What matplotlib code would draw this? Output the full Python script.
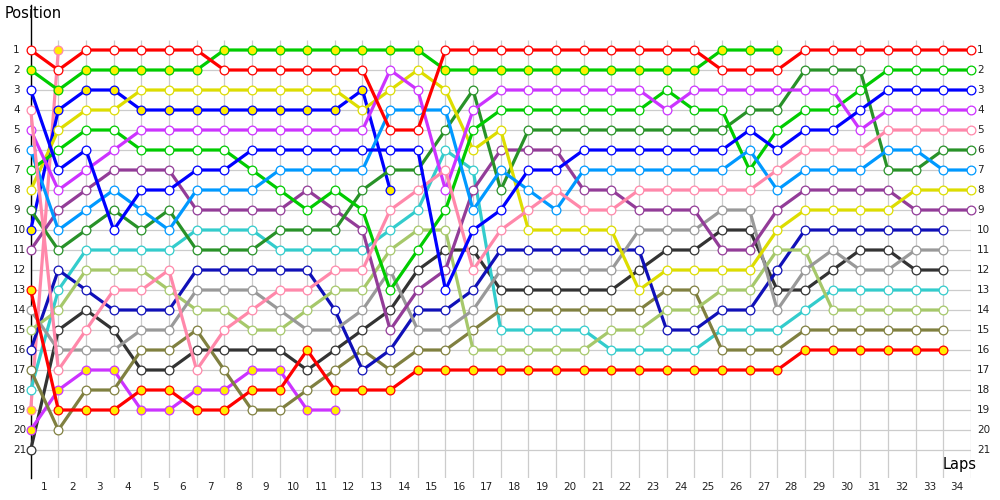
import matplotlib
matplotlib.use("Agg")
import matplotlib.pyplot as plt
from matplotlib.transforms import blended_transform_factory

# race positions per lap, lap 0 = grid
red_1 = [1, 2, 1, 1, 1, 1, 1, 2, 2, 2, 2, 2, 2, 5, 5, 1, 1, 1, 1, 1, 1, 1, 1, 1, 1, 2, 2, 2, 1, 1, 1, 1, 1, 1, 1]
green_1 = [2, 3, 2, 2, 2, 2, 2, 1, 1, 1, 1, 1, 1, 1, 1, 2, 2, 2, 2, 2, 2, 2, 2, 2, 2, 1, 1, 1]
blue_1 = [3, 7, 6, 10, 8, 8, 7, 7, 6, 6, 6, 6, 6, 6, 6, 13, 10, 9, 7, 7, 6, 6, 6, 6, 6, 6, 5, 6, 5, 5, 4, 3, 3, 3, 3]
pink_1 = [4, 17, 15, 13, 13, 12, 17, 15, 14, 13, 13, 12, 12, 9, 8, 7, 12, 10, 9, 8, 9, 9, 8, 8, 8, 8, 8, 7, 6, 6, 6, 5, 5, 5, 5]
violet_1 = [5, 8, 7, 6, 5, 5, 5, 5, 5, 5, 5, 5, 5, 2, 3, 8, 4, 3, 3, 3, 3, 3, 3, 4, 3, 3, 3, 3, 3, 3, 5, 4, 4, 4, 4]
sky = [6, 10, 9, 8, 9, 10, 8, 8, 8, 7, 7, 7, 7, 4, 4, 4, 9, 7, 8, 9, 7, 7, 7, 7, 7, 7, 6, 8, 7, 7, 7, 6, 6, 7, 7]
green_2 = [7, 6, 5, 5, 6, 6, 6, 6, 7, 8, 9, 8, 9, 13, 11, 9, 5, 4, 4, 4, 4, 4, 4, 3, 4, 4, 7, 5, 4, 4, 3, 2, 2, 2, 2]
yellow = [8, 5, 4, 4, 3, 3, 3, 3, 3, 3, 3, 3, 4, 3, 2, 3, 6, 5, 10, 10, 10, 10, 13, 12, 12, 12, 12, 10, 9, 9, 9, 9, 8, 8, 8]
dark_green = [9, 11, 10, 9, 10, 9, 11, 11, 11, 10, 10, 10, 8, 7, 7, 5, 3, 8, 5, 5, 5, 5, 5, 5, 5, 5, 4, 4, 2, 2, 2, 7, 7, 6, 6]
blue_2 = [10, 4, 3, 3, 4, 4, 4, 4, 4, 4, 4, 4, 3, 8]
purple = [11, 9, 8, 7, 7, 7, 9, 9, 9, 9, 8, 9, 10, 15, 13, 12, 8, 6, 6, 6, 8, 8, 9, 9, 9, 11, 11, 9, 8, 8, 8, 8, 9, 9, 9]
red_2 = [13, 19, 19, 19, 18, 18, 19, 19, 18, 18, 16, 18, 18, 18, 17, 17, 17, 17, 17, 17, 17, 17, 17, 17, 17, 17, 17, 17, 16, 16, 16, 16, 16, 16]
grey = [14, 16, 16, 16, 15, 15, 13, 13, 13, 14, 15, 15, 14, 12, 15, 15, 14, 12, 12, 12, 12, 12, 10, 10, 10, 9, 9, 14, 12, 11, 12, 12, 11, 11]
light_green = [15, 14, 12, 12, 12, 13, 14, 14, 15, 15, 14, 13, 13, 11, 10, 10, 16, 16, 16, 16, 16, 15, 15, 14, 14, 13, 13, 11, 11, 14, 14, 14, 14, 14]
navy = [16, 12, 13, 14, 14, 14, 12, 12, 12, 12, 12, 14, 17, 16, 14, 14, 13, 11, 11, 11, 11, 11, 11, 15, 15, 14, 14, 12, 10, 10, 10, 10, 10, 10]
olive = [17, 20, 18, 18, 16, 16, 15, 17, 19, 19, 18, 17, 16, 17, 16, 16, 15, 14, 14, 14, 14, 14, 14, 13, 13, 16, 16, 16, 15, 15, 15, 15, 15, 15]
cyan = [18, 13, 11, 11, 11, 11, 10, 10, 10, 11, 11, 11, 11, 10, 9, 6, 7, 15, 15, 15, 15, 16, 16, 16, 16, 15, 15, 15, 14, 13, 13, 13, 13, 13]
pink_2 = [19, 1]
violet_2 = [20, 18, 17, 17, 19, 19, 18, 18, 17, 17, 19, 19]
black = [21, 15, 14, 15, 17, 17, 16, 16, 16, 16, 17, 16, 15, 14, 12, 11, 11, 13, 13, 13, 13, 13, 12, 11, 11, 10, 10, 13, 13, 12, 11, 11, 12, 12]

n_laps = 34
n_positions = 21
lap_labels = [str(i) for i in range(1, n_laps + 1)]
pos_labels = [str(i) for i in range(1, n_positions + 1)]

series = [black, violet_2, pink_2, cyan, olive, navy, light_green, grey, red_2,
          purple, blue_2, dark_green, yellow, green_2, sky, violet_1, pink_1,
          blue_1, green_1, red_1]
colours = ["#333333", "#cc33ff", "#ff88aa", "#33cccc", "#808040", "#1010b8",
           "#a6c86a", "#999999", "#ff0000", "#933c98", "#0000ff", "#289228",
           "#dddd00", "#00cc00", "#0099ff", "#cc33ff", "#ff88aa", "#0000ff",
           "#00cc00", "#ff0000"]
yellow_fill = {id(violet_2), id(pink_2), id(red_2), id(blue_2), id(green_1)}

fig = plt.figure(figsize=(10, 5), dpi=100)
ax = fig.add_axes([0.0307, 0.044, 0.9401, 0.946])
ax.set_xlim(0, n_laps)
ax.set_ylim(22.4, -1.25)

grid = "#cccccc"
ax.vlines(range(0, n_laps + 1), 0.5, 22.4, color=grid, lw=0.9, zorder=1)
ax.hlines(range(1, n_positions + 1), 0, n_laps, color=grid, lw=0.9, zorder=1)

for s, c in zip(series, colours):
    face = "#ffee00" if id(s) in yellow_fill else "white"
    ax.plot(range(len(s)), s, color=c, lw=2.3, marker="o", ms=6.3,
            mfc=face, mec=c, mew=0.9, zorder=3, clip_on=False)

for name in ("top", "right", "bottom"):
    ax.spines[name].set_visible(False)
ax.spines["left"].set_color("black")
ax.spines["left"].set_linewidth(1.0)
ax.spines["left"].set_zorder(2)
ax.set_xticks([])
ax.set_yticks([])

fy = blended_transform_factory(fig.transFigure, ax.transData)
for i, lab in enumerate(pos_labels, start=1):
    ax.text(0.013, i, lab, transform=fy, ha="left", va="center", fontsize=7.5, color="#222222")
    ax.text(0.977, i, lab, transform=fy, ha="left", va="center", fontsize=7.5, color="#222222")

fx = blended_transform_factory(ax.transData, fig.transFigure)
for i, lab in enumerate(lap_labels, start=1):
    ax.text(i - 0.5, 1 - 487 / 500, lab, transform=fx, ha="center", va="center",
            fontsize=7.5, color="#222222")

fig.text(0.005, 1 - 14 / 500, "Position", ha="left", va="center", fontsize=10.5)
fig.text(0.943, 1 - 465 / 500, "Laps", ha="left", va="center", fontsize=10.5)

fig.savefig("out.png", dpi=100)
